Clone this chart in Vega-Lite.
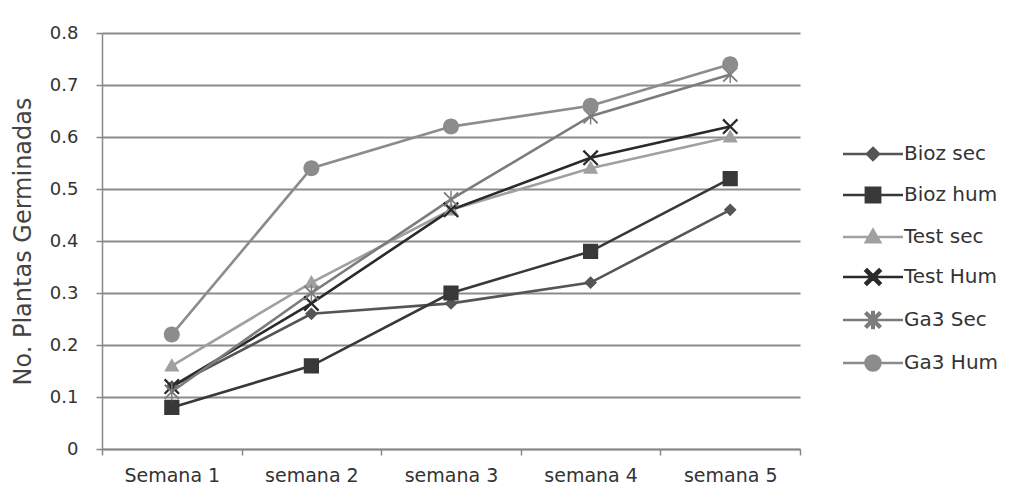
{
  "$schema": "https://vega.github.io/schema/vega-lite/v6.json",
  "width": 698,
  "height": 416,
  "autosize": "none",
  "padding": {"left": 102, "top": 33, "right": 232, "bottom": 54},
  "background": "white",
  "config": {
    "view": {"stroke": null},
    "font": "DejaVu Sans",
    "axis": {"labelFont": "DejaVu Sans", "labelColor": "#333333", "titleColor": "#444444"},
    "legend": {"labelFont": "DejaVu Sans"}
  },
  "data": {
    "values": [
      {"s": "Bioz sec", "w": "Semana 1", "v": 0.12},
      {"s": "Bioz sec", "w": "semana 2", "v": 0.26},
      {"s": "Bioz sec", "w": "semana 3", "v": 0.28},
      {"s": "Bioz sec", "w": "semana 4", "v": 0.32},
      {"s": "Bioz sec", "w": "semana 5", "v": 0.46},
      {"s": "Bioz hum", "w": "Semana 1", "v": 0.08},
      {"s": "Bioz hum", "w": "semana 2", "v": 0.16},
      {"s": "Bioz hum", "w": "semana 3", "v": 0.30},
      {"s": "Bioz hum", "w": "semana 4", "v": 0.38},
      {"s": "Bioz hum", "w": "semana 5", "v": 0.52},
      {"s": "Test sec", "w": "Semana 1", "v": 0.16},
      {"s": "Test sec", "w": "semana 2", "v": 0.32},
      {"s": "Test sec", "w": "semana 3", "v": 0.46},
      {"s": "Test sec", "w": "semana 4", "v": 0.54},
      {"s": "Test sec", "w": "semana 5", "v": 0.60},
      {"s": "Test Hum", "w": "Semana 1", "v": 0.12},
      {"s": "Test Hum", "w": "semana 2", "v": 0.28},
      {"s": "Test Hum", "w": "semana 3", "v": 0.46},
      {"s": "Test Hum", "w": "semana 4", "v": 0.56},
      {"s": "Test Hum", "w": "semana 5", "v": 0.62},
      {"s": "Ga3 Sec", "w": "Semana 1", "v": 0.11},
      {"s": "Ga3 Sec", "w": "semana 2", "v": 0.30},
      {"s": "Ga3 Sec", "w": "semana 3", "v": 0.48},
      {"s": "Ga3 Sec", "w": "semana 4", "v": 0.64},
      {"s": "Ga3 Sec", "w": "semana 5", "v": 0.72},
      {"s": "Ga3 Hum", "w": "Semana 1", "v": 0.22},
      {"s": "Ga3 Hum", "w": "semana 2", "v": 0.54},
      {"s": "Ga3 Hum", "w": "semana 3", "v": 0.62},
      {"s": "Ga3 Hum", "w": "semana 4", "v": 0.66},
      {"s": "Ga3 Hum", "w": "semana 5", "v": 0.74}
    ]
  },
  "encoding": {
    "x": {
      "field": "w",
      "type": "ordinal",
      "sort": null,
      "bandPosition": 0.5,
      "scale": {"type": "band", "paddingInner": 0, "paddingOuter": 0},
      "axis": {
        "title": null,
        "labelAngle": 0,
        "labelFontSize": 19,
        "labelPadding": 11,
        "tickBand": "extent",
        "tickSize": 6,
        "tickColor": "#888888",
        "tickWidth": 1.5,
        "domainColor": "#888888",
        "domainWidth": 1.5,
        "grid": false
      }
    },
    "y": {
      "field": "v",
      "type": "quantitative",
      "scale": {"domain": [0, 0.8], "nice": false},
      "axis": {
        "title": "No. Plantas Germinadas",
        "titleFont": "DejaVu Sans",
        "titleFontSize": 24,
        "titleFontWeight": "normal",
        "titlePadding": 14,
        "values": [0, 0.1, 0.2, 0.3, 0.4, 0.5, 0.6, 0.7, 0.8],
        "format": "~g",
        "labelFontSize": 18,
        "labelPadding": 18,
        "tickSize": 6,
        "tickColor": "#888888",
        "tickWidth": 1.5,
        "domainColor": "#888888",
        "domainWidth": 1.5,
        "grid": true,
        "gridColor": "#8c8c8c",
        "gridWidth": 1.8
      }
    },
    "color": {
      "field": "s",
      "type": "nominal",
      "scale": {
        "domain": ["Bioz sec", "Bioz hum", "Test sec", "Test Hum", "Ga3 Sec", "Ga3 Hum"],
        "range": ["#555555", "#383838", "#a0a0a0", "#2a2a2a", "#7c7c7c", "#8c8c8c"]
      },
      "legend": {
        "title": null,
        "orient": "none",
        "legendX": 761,
        "legendY": 111,
        "padding": 0,
        "symbolSize": 225,
        "symbolStrokeWidth": 2.6,
        "symbolOpacity": 1,
        "labelFontSize": 20,
        "labelColor": "#333333",
        "labelOffset": 21,
        "rowPadding": 16,
        "labelLimit": 200,
        "encode": {
          "symbols": {"update": {"stroke": {"scale": "color", "field": "value"}, "strokeWidth": {"value": 2.6}}}
        }
      }
    }
  },
  "layer": [
    {
      "mark": {"type": "line", "strokeWidth": 2.6}
    },
    {
      "mark": {"type": "point", "filled": true, "opacity": 1, "size": 256, "strokeWidth": 0},
      "encoding": {
        "shape": {
          "field": "s",
          "type": "nominal",
          "scale": {
            "domain": ["Bioz sec", "Bioz hum", "Test sec", "Test Hum", "Ga3 Sec", "Ga3 Hum"],
            "range": [
              "M-4,0H4M0,-0.8L0.8,0L0,0.8L-0.8,0Z",
              "M-4,0H4M-0.95,-0.95H0.95V0.95H-0.95Z",
              "M-4,0H4M0,-0.95L0.95,0.7H-0.95Z",
              "M-4,0H4M-0.8,-1.0L1.0,0.8L0.8,1.0L-1.0,-0.8ZM-0.8,1.0L-1.0,0.8L0.8,-1.0L1.0,-0.8Z",
              "M-4,0H4M-0.8,-0.96L0.96,0.8L0.8,0.96L-0.96,-0.8ZM-0.8,0.96L-0.96,0.8L0.8,-0.96L0.96,-0.8ZM-0.09,-1.05H0.09V1.05H-0.09Z",
              "M-4,0H4M-1,0A1,1 0 1,1 1,0A1,1 0 1,1 -1,0Z"
            ]
          },
          "legend": {
            "title": null,
            "orient": "none",
            "legendX": 761,
            "legendY": 111,
            "padding": 0,
            "symbolSize": 225,
            "symbolStrokeWidth": 2.6,
            "symbolOpacity": 1,
            "labelFontSize": 20,
            "labelColor": "#333333",
            "labelOffset": 21,
            "rowPadding": 16,
            "labelLimit": 200,
            "encode": {
              "symbols": {"update": {"stroke": {"scale": "color", "field": "value"}, "strokeWidth": {"value": 2.6}}}
            }
          }
        }
      }
    }
  ]
}
